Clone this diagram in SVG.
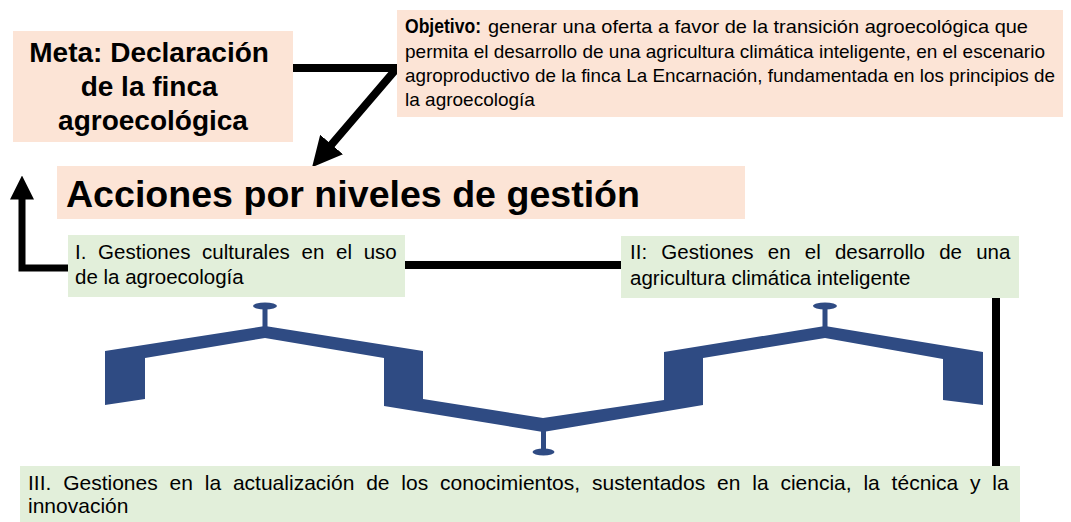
<svg xmlns="http://www.w3.org/2000/svg" width="1071" height="522" viewBox="0 0 1071 522">
<style>
.peach{fill:#fce4d6}
.green{fill:#e2efda}
.t{font-family:"Liberation Sans",Arial,sans-serif;fill:#000}
.b{font-weight:bold}
.line{fill:none;stroke:#000;stroke-linejoin:miter}
.blue{fill:#2f4b83}
</style>
<defs>
<marker id="headBig" markerUnits="userSpaceOnUse" markerWidth="30" markerHeight="30" viewBox="0 0 28 28" refX="8" refY="14" orient="auto">
<path d="M0,0 L28,14 L0,28 Z" fill="#000"/>
</marker>
<marker id="headSmall" markerUnits="userSpaceOnUse" markerWidth="24" markerHeight="24" viewBox="0 0 22 22" refX="6" refY="11" orient="auto">
<path d="M0,0 L22,11 L0,22 Z" fill="#000"/>
</marker>
</defs>

<g id="connectors">
<path class="line" d="M293,68 L397,68 L326,151" stroke-width="8" marker-end="url(#headBig)"/>
<path class="line" d="M68,268 L22,268 L22,193" stroke-width="7" marker-end="url(#headSmall)"/>
<path class="line" d="M405,265 L621,265" stroke-width="8"/>
<path class="line" d="M996,298 L996,466" stroke-width="8"/>
</g>

<g id="meta">
<rect class="peach" x="13" y="31" width="280" height="111"/>
<text class="t b" font-size="28" text-anchor="middle">
<tspan x="153" y="62">Meta: Declaración</tspan>
<tspan x="153" y="96">de la finca</tspan>
<tspan x="153" y="130">agroecológica</tspan>
</text>
</g>

<g id="objetivo">
<rect class="peach" x="397" y="10" width="666" height="107"/>
<text class="t" font-size="19">
<tspan x="405" y="33" class="b" font-size="19.5" textLength="76" lengthAdjust="spacingAndGlyphs">Objetivo:</tspan><tspan x="488" y="33" textLength="540" lengthAdjust="spacingAndGlyphs">generar una oferta a favor de la transición agroecológica que</tspan>
<tspan x="405" y="57.5" textLength="640" lengthAdjust="spacingAndGlyphs">permita el desarrollo de una agricultura climática inteligente, en el escenario</tspan>
<tspan x="405" y="82" textLength="650" lengthAdjust="spacingAndGlyphs">agroproductivo de la finca La Encarnación, fundamentada en los principios de</tspan>
<tspan x="405" y="106">la agroecología</tspan>
</text>
</g>

<g id="acciones">
<rect class="peach" x="57" y="166" width="688" height="53"/>
<text class="t b" x="66" y="207" font-size="37" textLength="574" lengthAdjust="spacingAndGlyphs">Acciones por niveles de gestión</text>
</g>

<g id="nivel1">
<rect class="green" x="68" y="235" width="337" height="62"/>
<text class="t" font-size="20.5">
<tspan x="75" y="259" word-spacing="6">I. Gestiones culturales en el uso</tspan>
<tspan x="75" y="284">de la agroecología</tspan>
</text>
</g>

<g id="nivel2">
<rect class="green" x="621" y="236" width="398" height="62"/>
<text class="t" font-size="20.5">
<tspan x="630" y="259" word-spacing="8.5">II: Gestiones en el desarrollo de una</tspan>
<tspan x="630" y="285">agricultura climática inteligente</tspan>
</text>
</g>

<g id="nivel3">
<rect class="green" x="20" y="466" width="1000" height="56"/>
<text class="t" font-size="21">
<tspan x="28" y="490" word-spacing="6">III. Gestiones en la actualización de los conocimientos, sustentados en la ciencia, la técnica y la</tspan>
<tspan x="28" y="513">innovación</tspan>
</text>
</g>

<g id="estructura">
<path class="blue" d="M105,351 L265,326 L423,351 L423,399 L543,418 L664,400 L664,352 L825,326 L983,352 L983,405 L943,400 L943,359 L825,338 L703,358 L703,405 L543,432 L384,406 L384,358 L265,338 L145,358 L145,399 L105,405 Z"/>
<rect class="blue" x="262.5" y="306" width="5" height="22"/>
<ellipse class="blue" cx="265" cy="306" rx="12" ry="3.5"/>
<rect class="blue" x="822.5" y="306" width="5" height="22"/>
<ellipse class="blue" cx="825" cy="306" rx="12" ry="3.5"/>
<rect class="blue" x="541" y="430" width="5" height="22"/>
<ellipse class="blue" cx="543.5" cy="452" rx="11" ry="3.5"/>
</g>
</svg>
